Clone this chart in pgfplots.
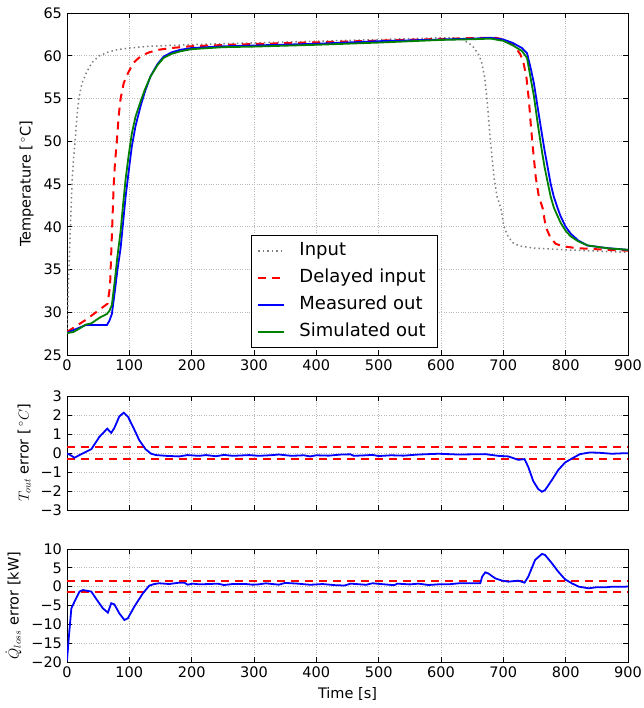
\documentclass[border=0pt]{standalone}
\usepackage{fontspec}
\setmainfont{DejaVu Sans}
\usepackage{pgfplots}
\pgfplotsset{compat=1.18}
\definecolor{mgreen}{rgb}{0,0.5,0}
\pgfplotsset{
 base/.style={
   scale only axis, width=561pt, xmin=0, xmax=900, xtick={0,100,...,900},
   grid=major, major grid style={gray!55, dotted, line width=0.7pt},
   axis line style={black, line width=0.9pt},
   every tick/.style={black, line width=0.7pt}, major tick length=5pt,
   tick label style={font=\fontsize{14.5}{17}\selectfont},
   label style={font=\fontsize{14.5}{17}\selectfont},
   /pgf/number format/assume math mode=true,
   legend image code/.code={\draw[##1] (0pt,0pt) -- (26pt,0pt);},
 },
 redref/.style={red, line width=2pt, dash pattern=on 8pt off 6pt},
}
\begin{document}
\fontsize{14.5}{17}\selectfont
\begin{tikzpicture}
\useasboundingbox (0pt,0pt) rectangle (643pt,708pt);
% ---------------- top ----------------
\begin{axis}[base, at={(67pt,353pt)}, anchor=south west, height=342pt,
  ymin=25, ymax=65, ytick={25,30,...,65},
  ylabel={Temperature [\,$^\circ$C]},
  legend style={at={(0.328,0.0205)}, anchor=south west, draw=black, line width=0.9pt,
    fill=white, font=\fontsize{18}{20}\selectfont, inner xsep=6pt, inner ysep=6.75pt,
    row sep=9.5pt, column sep=8pt,
    nodes={inner xsep=6pt, inner ysep=0pt, text height=13.5pt, text depth=4pt}},
  legend cell align=left]
\addplot[gray, line width=1.5pt, dash pattern=on 1.5pt off 3pt] coordinates {
(0,27.5) (1,30) (2,33) (4,37) (6,41) (8,45) (10,47.5) (13,50) (16,53) (19,55)
(24,56.8) (31,58) (40,59.2) (52,60) (65,60.4) (80,60.7) (100,60.9) (130,61.1)
(200,61.3) (300,61.5) (400,61.7) (500,61.9) (600,62.1) (620,62.1) (635,61.9)
(650,61.2) (660,60.2) (665,59.3) (670,57.5) (674,54.8) (677,52) (680,49.5)
(685,45.8) (690,43.5) (696,42.2) (701,40) (708,38.8) (717,38.0) (730,37.7)
(750,37.5) (800,37.3) (900,37.0)};
\addlegendentry{Input}
\addplot[redref] coordinates {
(0,27.7) (30,29.1) (65,31.0) (69,33) (71,37) (73,41) (75,45) (77,47.5) (80,50)
(83,53) (86,55) (91,56.8) (98,58) (107,59.2) (119,60) (132,60.4) (147,60.7)
(167,60.9) (197,61.1) (267,61.3) (367,61.5) (467,61.7) (567,61.9) (667,62.1)
(687,62.1) (702,61.9) (717,61.2) (727,60.2) (732,59.3) (737,57.5) (741,54.8)
(744,52) (747,49.5) (752,45.8) (757,43.5) (763,42.2) (768,40) (775,38.8)
(784,38.0) (797,37.7) (817,37.5) (867,37.3) (900,37.2)};
\addlegendentry{Delayed input}
\addplot[blue, line width=1.8pt] coordinates {
(0,27.6) (10,27.9) (20,28.2) (30,28.5) (64,28.5) (68,29.0) (72,29.8) (77,32.6)
(81,35) (86,37.5) (90,40.5) (94,43.5) (99,46.5) (104,49.4) (110,51.8) (118,54.1)
(125,55.8) (134,57.6) (145,59) (155,59.9) (168,60.4) (182,60.7) (200,60.9)
(250,61.1) (300,61.2) (400,61.4) (500,61.7) (600,61.9) (650,62.0) (680,62.1)
(700,61.9) (715,61.5) (730,60.9) (738,60.3) (744,58.5) (749,56.8) (755,54)
(760,51.7) (766,49) (771,47) (776,45) (781,43.5) (787,42.2) (792,41.2) (800,40.0)
(808,39.2) (820,38.4) (835,37.8) (867,37.5) (900,37.3)};
\addlegendentry{Measured out}
\addplot[mgreen, line width=1.8pt] coordinates {
(0,27.56) (10,27.68) (20,28.09) (30,28.55) (39,28.7) (52,29.35) (64,29.8)
(68,30.15) (72,30.85) (77,33.9) (81,36.6) (86,39.45) (90,42.6) (94,45.55)
(99,48.4) (104,50.9) (110,52.9) (118,54.65) (125,56.05) (134,57.58) (145,58.88)
(155,59.75) (168,60.23) (182,60.52) (200,60.77) (250,61.0) (300,61.07)
(400,61.28) (500,61.54) (600,61.85) (650,61.93) (680,62.0) (700,61.74)
(715,61.22) (730,60.55) (738,59.75) (744,57.3) (749,55.3) (755,52.15) (760,49.7)
(766,47.03) (771,45.25) (776,43.5) (781,42.25) (787,41.25) (792,40.45)
(800,39.52) (808,38.88) (820,38.3) (835,37.82) (867,37.48) (900,37.3)};
\addlegendentry{Simulated out}
\end{axis}
% ---------------- middle ----------------
\begin{axis}[base, at={(67pt,198pt)}, anchor=south west, height=114pt,
  ymin=-3, ymax=3, ytick={-3,-2,...,3}, yticklabels={−3,−2,−1,0,1,2,3},
  xticklabels={},
  ylabel={$T_{out}$ error [\,$^\circ C$]}]
\addplot[redref] coordinates {(0,0.3) (900,0.3)};
\addplot[redref] coordinates {(0,-0.3) (900,-0.3)};
\addplot[blue, line width=1.8pt] coordinates {
(0,-0.04) (4,-0.08) (12,-0.25) (20,-0.11) (39,0.2) (52,0.85) (64.5,1.28) (71,1.06)
(76,1.32) (84,1.93) (91,2.12) (98,1.9) (106,1.37) (116,0.67) (126,0.2) (135,-0.04)
(143,-0.11) (159,-0.15) (180,-0.18) (193,-0.11) (212,-0.15) (223,-0.11) (239,-0.17)
(252,-0.1) (266,-0.15) (292,-0.11) (308,-0.15) (330,-0.11) (340,-0.08) (360,-0.15)
(380,-0.12) (390,-0.18) (400,-0.12) (420,-0.14) (440,-0.08) (455,-0.07) (460,-0.15)
(480,-0.12) (490,-0.1) (500,-0.16) (520,-0.12) (540,-0.14) (564,-0.08) (596,-0.04)
(628,-0.08) (671,-0.06) (692,-0.15) (708,-0.18) (724,-0.36) (734,-0.32) (740,-0.73)
(748,-1.48) (756,-1.9) (762,-2.04) (767,-1.95) (778,-1.42) (788,-0.9) (799,-0.5)
(810,-0.29) (823,-0.06) (839,0.03) (855,0.01) (874,-0.04) (895,-0.01) (900,-0.02)};
\end{axis}
% ---------------- bottom ----------------
\begin{axis}[base, at={(67pt,46pt)}, anchor=south west, height=113pt,
  ymin=-20, ymax=10, ytick={-20,-15,...,10}, yticklabels={−20,−15,−10,−5,0,5,10},
  xlabel={Time [s]},
  ylabel={$\dot{Q}_{loss}$ error [kW]}]
\addplot[redref] coordinates {(0,1.5) (900,1.5)};
\addplot[redref] coordinates {(0,-1.5) (900,-1.5)};
\addplot[blue, line width=1.8pt] coordinates {
(0,-19.6) (3,-13.3) (7,-5.75) (12,-4) (20,-1.3) (25.6,-0.9) (31,-1.06) (39,-1.3)
(50,-4) (57.6,-5.75) (65.6,-6.9) (71,-4.4) (76,-4.7) (84,-7.1) (92,-8.85)
(97.6,-8.4) (108,-5.3) (121.6,-1.8) (132,0.27) (140,0.7) (148,0.9) (164,0.7)
(180,1.06) (188,1.06) (193.6,0.53) (201.6,0.8) (212,0.62) (228,0.7) (241.6,0.8)
(252,0.44) (265.6,0.7) (287,0.7) (297.6,0.53) (308,0.62) (319,0.88) (329.6,0.7)
(340,0.53) (350,1.0) (370,0.8) (390,0.5) (410,0.7) (430,0.4) (445,0.3) (455,0.8)
(480,0.5) (490,0.9) (510,0.6) (525,0.4) (530,0.8) (550,0.6) (564,0.8) (580,0.44)
(596,0.62) (612,0.62) (628,0.88) (663,0.88) (666,2.65) (671,3.8) (676,3.5)
(687,2.2) (698,1.6) (708,1.33) (724,1.6) (734,1.06) (740,2.65) (751,7.1)
(762,8.7) (767,8.4) (778,6.2) (788,4.0) (799,1.95) (810,0.88) (821,0)
(837,-0.44) (848,-0.18) (864,-0.18) (874,0) (896,0) (900,0.05)};
\end{axis}
\end{tikzpicture}
\end{document}
